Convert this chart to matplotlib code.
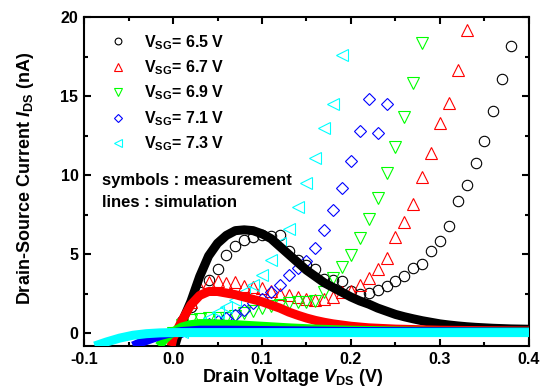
import matplotlib
matplotlib.use("Agg")
import matplotlib.pyplot as plt
from matplotlib.ticker import MultipleLocator

plt.rcParams['font.family'] = ['Liberation Sans', 'DejaVu Sans']
plt.rcParams['font.weight'] = 'bold'
plt.rcParams['axes.labelweight'] = 'bold'
plt.rcParams['mathtext.fontset'] = 'custom'
plt.rcParams['mathtext.rm'] = 'Liberation Sans:bold'
plt.rcParams['mathtext.bf'] = 'Liberation Sans:bold'
plt.rcParams['mathtext.it'] = 'Liberation Sans:italic:bold'

# ---- measurement data (symbols), V_DS in V, I_DS in nA ----
vds_65 = [0.00, 0.01, 0.02, 0.03, 0.04, 0.05, 0.06, 0.07, 0.08, 0.09, 0.10, 0.11, 0.12,
          0.13, 0.14, 0.15, 0.16, 0.17, 0.18, 0.19, 0.20, 0.21, 0.22, 0.23, 0.24, 0.25,
          0.26, 0.27, 0.28, 0.29, 0.30, 0.31, 0.32, 0.33, 0.34, 0.35, 0.36, 0.37, 0.38]
ids_65 = [0.0, 0.8, 1.7, 2.6, 3.4, 4.1, 4.95, 5.5, 5.9, 6.07, 6.2, 6.15, 6.2,
          5.2, 4.65, 4.3, 4.05, 3.45, 3.4, 3.3, 2.7, 2.47, 2.57, 2.74, 2.99, 3.31,
          3.65, 4.11, 4.37, 5.23, 5.86, 6.81, 8.4, 9.4, 10.8, 12.2, 14.1, 16.1, 18.2]

vds_67 = [0.00, 0.01, 0.02, 0.03, 0.04, 0.05, 0.06, 0.07, 0.08, 0.09, 0.10, 0.11, 0.12,
          0.13, 0.14, 0.15, 0.16, 0.17, 0.18, 0.19, 0.20, 0.21, 0.22, 0.23, 0.24, 0.25,
          0.26, 0.27, 0.28, 0.29, 0.30, 0.31, 0.32, 0.33]
ids_67 = [0.0, 1.0, 2.0, 2.9, 3.25, 3.3, 3.2, 3.25, 3.0, 2.95, 2.85, 2.7, 2.5,
          2.4, 2.3, 2.2, 2.1, 2.2, 2.3, 2.6, 2.65, 3.06, 3.52, 4.07, 4.79, 6.08,
          7.06, 8.18, 9.91, 11.39, 13.33, 14.56, 16.66, 19.2]

vds_69 = [0.00, 0.01, 0.02, 0.03, 0.04, 0.05, 0.06, 0.07, 0.08, 0.09, 0.10, 0.11, 0.12,
          0.13, 0.14, 0.15, 0.16, 0.17, 0.18, 0.19, 0.20, 0.21, 0.22, 0.23, 0.24, 0.25,
          0.26, 0.27, 0.28]
ids_69 = [0.0, 0.5, 0.85, 0.9, 0.95, 1.0, 1.0, 1.1, 1.3, 1.4, 1.6, 1.75, 1.8,
          1.95, 2.0, 2.0, 2.05, 2.6, 3.48, 4.18, 4.96, 6.05, 7.21, 8.55, 10.13, 11.81,
          13.71, 15.82, 18.35]

vds_71 = [0.00, 0.01, 0.02, 0.03, 0.04, 0.05, 0.06, 0.07, 0.08, 0.09, 0.10, 0.11, 0.12,
          0.13, 0.14, 0.15, 0.16, 0.17, 0.18, 0.19, 0.20, 0.21, 0.22, 0.23, 0.24]
ids_71 = [0.0, 0.15, 0.3, 0.45, 0.6, 0.8, 1.0, 1.16, 1.5, 1.9, 2.2, 2.63, 3.06,
          3.69, 4.11, 4.6, 5.4, 6.54, 7.8, 9.2, 10.9, 12.8, 14.8, 12.7, 14.5]

vds_73 = [0.00, 0.01, 0.02, 0.03, 0.04, 0.05, 0.06, 0.07, 0.08, 0.09, 0.10, 0.11, 0.12,
          0.13, 0.14, 0.15, 0.16, 0.17, 0.18, 0.19]
ids_73 = [0.0, 0.1, 0.3, 0.6, 1.0, 1.37, 1.68, 2.11, 2.63, 3.06, 3.69, 4.64, 5.7,
          6.6, 8.0, 9.5, 11.07, 13.0, 14.5, 17.6]

# ---- simulation data (thick lines) ----
sim_v_65 = [0.002, 0.01, 0.02, 0.03, 0.04, 0.05, 0.06, 0.07, 0.08, 0.09, 0.10, 0.11,
            0.12, 0.13, 0.14, 0.15, 0.16, 0.17, 0.18, 0.19, 0.20, 0.21, 0.22, 0.23,
            0.24, 0.25, 0.26, 0.27, 0.28, 0.29, 0.30, 0.31, 0.32, 0.33, 0.34, 0.36,
            0.38, 0.40]
sim_i_65 = [-0.8, 0.7, 2.0, 3.6, 4.9, 5.7, 6.2, 6.5, 6.55, 6.5, 6.3, 6.0,
            5.5, 5.0, 4.5, 4.0, 3.6, 3.2, 2.9, 2.6, 2.3, 2.05, 1.85, 1.6,
            1.4, 1.2, 1.05, 0.92, 0.8, 0.7, 0.6, 0.53, 0.47, 0.42, 0.38, 0.32,
            0.28, 0.26]

sim_v_67 = [-0.002, 0.00, 0.01, 0.02, 0.03, 0.04, 0.05, 0.06, 0.07, 0.08, 0.09, 0.10,
            0.11, 0.12, 0.13, 0.14, 0.15, 0.16, 0.17, 0.18, 0.20, 0.22, 0.25, 0.30,
            0.35, 0.40]
sim_i_67 = [-0.8, -0.3, 0.8, 1.8, 2.4, 2.65, 2.65, 2.55, 2.45, 2.3, 2.15, 2.0,
            1.8, 1.6, 1.35, 1.15, 0.97, 0.82, 0.7, 0.6, 0.45, 0.35, 0.27, 0.2,
            0.17, 0.15]

sim_v_69 = [-0.016, -0.01, 0.00, 0.01, 0.02, 0.03, 0.05, 0.07, 0.10, 0.13, 0.16, 0.20,
            0.25, 0.30, 0.40]
sim_i_69 = [-0.8, -0.4, 0.1, 0.4, 0.55, 0.62, 0.6, 0.55, 0.45, 0.35, 0.27, 0.2,
            0.15, 0.12, 0.1]

sim_v_71 = [-0.045, -0.035, -0.025, -0.015, -0.005, 0.01, 0.03, 0.06, 0.10, 0.20, 0.40]
sim_i_71 = [-0.8, -0.55, -0.35, -0.15, 0.0, 0.12, 0.2, 0.2, 0.18, 0.12, 0.08]

sim_v_73 = [-0.088, -0.075, -0.06, -0.045, -0.03, -0.015, 0.00, 0.10, 0.40]
sim_i_73 = [-0.8, -0.55, -0.3, -0.12, -0.02, 0.03, 0.05, 0.05, 0.05]

x_ticks = [-0.1, 0.0, 0.1, 0.2, 0.3, 0.4]
x_ticklabels = ["-0.1", "0.0", "0.1", "0.2", "0.3", "0.4"]
y_ticks = [0, 5, 10, 15, 20]

labels = ["V$_{\\mathrm{SG}}$= 6.5 V", "V$_{\\mathrm{SG}}$= 6.7 V", "V$_{\\mathrm{SG}}$= 6.9 V",
          "V$_{\\mathrm{SG}}$= 7.1 V", "V$_{\\mathrm{SG}}$= 7.3 V"]
colors = ["#000000", "#ff0000", "#00ff00", "#0000ff", "#00ffff"]
markers = ["o", "^", "v", "D", "<"]
msizes = [7.5, 8.5, 8.5, 6.5, 8.5]

meas = [(vds_65, ids_65), (vds_67, ids_67), (vds_69, ids_69), (vds_71, ids_71), (vds_73, ids_73)]
sims = [(sim_v_65, sim_i_65), (sim_v_67, sim_i_67), (sim_v_69, sim_i_69),
        (sim_v_71, sim_i_71), (sim_v_73, sim_i_73)]

fig = plt.figure(figsize=(5.48, 3.90), dpi=100)
ax = fig.add_axes([0.1533, 0.1128, 0.812, 0.8428])

handles = []
for (v, i), c, m, ms, lab in zip(meas, colors, markers, msizes, labels):
    h, = ax.plot(v, i, linestyle='none', marker=m, ms=ms, mfc='none', mec=c, mew=0.8,
                 label=lab, zorder=2)
    handles.append(h)

for (v, i), c in zip(sims, colors):
    ax.plot(v, i, color=c, lw=6.5, solid_capstyle='butt', zorder=3)

ax.set_xlim(-0.1, 0.4)
ax.set_ylim(-0.8, 20)
ax.set_xticks(x_ticks)
ax.set_xticklabels(x_ticklabels, fontweight='bold', fontsize=11.5)
ax.set_yticks(y_ticks)
ax.set_yticklabels([str(t) for t in y_ticks], fontweight='bold', fontsize=11.5)
ax.xaxis.set_minor_locator(MultipleLocator(0.05))
ax.yaxis.set_minor_locator(MultipleLocator(2.5))
ax.tick_params(which='both', direction='in', top=True, right=True, width=1.5, pad=4)
ax.tick_params(which='major', length=5)
ax.tick_params(which='minor', length=3)
for s in ax.spines.values():
    s.set_linewidth(1.5)

ax.set_xlabel("Drain Voltage $\\mathit{V}_{\\mathrm{DS}}$ (V)", fontsize=13,
              fontweight='bold', labelpad=0)
ax.xaxis.label.set_x(0.4685)
ax.set_ylabel("Drain-Source Current $\\mathit{I}_{\\mathrm{DS}}$ (nA)", fontsize=13,
              fontweight='bold')
ax.yaxis.set_label_coords(-0.108, 0.51)

leg = ax.legend(handles=handles, loc='upper left', bbox_to_anchor=(0.045, 0.972),
                frameon=False, fontsize=11.5, markerscale=0.65, handlelength=1.0,
                handletextpad=1.1, labelspacing=0.42, borderaxespad=0)

ax.text(0.04, 0.505, "symbols : measurement", transform=ax.transAxes, fontsize=12,
        fontweight='bold', va='center', ha='left')
ax.text(0.04, 0.438, "lines : simulation", transform=ax.transAxes, fontsize=12,
        fontweight='bold', va='center', ha='left')

fig.savefig("out.png", dpi=100)
